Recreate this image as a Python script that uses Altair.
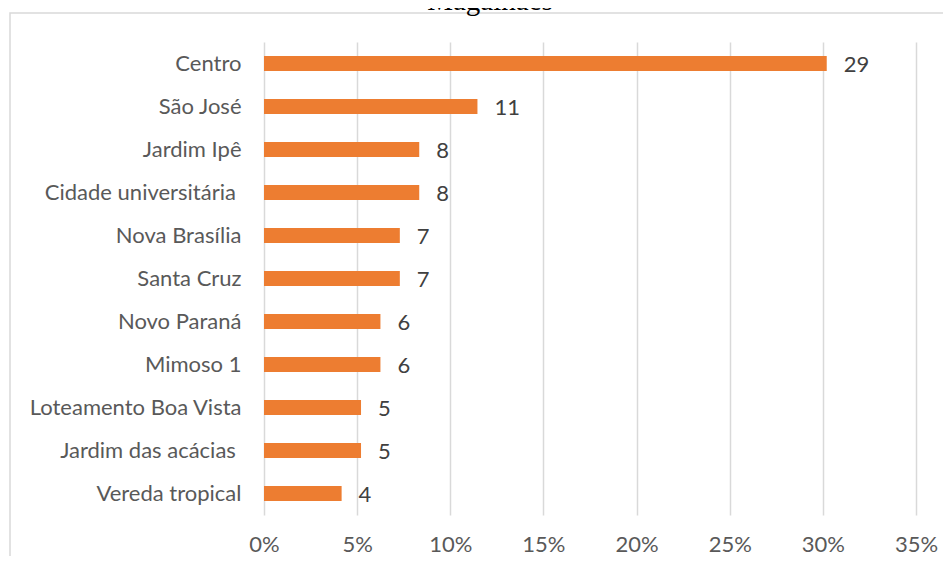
import altair as alt
import pandas as pd

bairros = [
    "Centro", "São José", "Jardim Ipê", "Cidade universitária\u00a0\u200b", "Nova Brasília",
    "Santa Cruz", "Novo Paraná", "Mimoso 1", "Loteamento Boa Vista",
    "Jardim das acácias\u00a0\u200b", "Vereda tropical",
]
contagens = [29, 11, 8, 8, 7, 7, 6, 6, 5, 5, 4]
x_ticks = [0, 0.05, 0.10, 0.15, 0.20, 0.25, 0.30, 0.35]
titulo = "Magalhães"

df = pd.DataFrame({"bairro": bairros, "n": contagens})

FONT = "Lato"
FS = 22
W, H = 652, 473
PAD_L, PAD_T = 256, 34

base = alt.Chart(df).transform_joinaggregate(
    total="sum(n)"
).transform_calculate(
    pct="datum.n / datum.total"
)

y_enc = alt.Y(
    "bairro:N",
    sort=bairros,
    title=None,
    scale=alt.Scale(paddingInner=0.65, paddingOuter=0.325),
    axis=alt.Axis(
        domain=False, ticks=False, grid=False,
        labelFont=FONT, labelFontSize=FS, labelColor="#595959",
        labelPadding=23, labelLimit=400,
    ),
)

x_enc = alt.X(
    "pct:Q",
    title=None,
    scale=alt.Scale(domain=[0, 0.35], nice=False),
    axis=alt.Axis(
        values=x_ticks, format=".0%", domain=False, ticks=False,
        grid=True, gridColor="#D9D9D9", gridWidth=1.5,
        labelFont=FONT, labelFontSize=FS, labelColor="#595959",
        labelPadding=19, labelFlush=False,
    ),
)

bars = base.mark_bar(color="#ED7D31").encode(x=x_enc, y=y_enc)

labels = base.mark_text(
    align="left", baseline="middle", dx=17, dy=1,
    font=FONT, fontSize=FS, color="#404040",
).encode(x="pct:Q", y=alt.Y("bairro:N", sort=bairros), text="n:Q")

border = alt.Chart(pd.DataFrame({"k": [0]})).mark_rect(
    fill=None, stroke="#D9D9D9", strokeWidth=1.5
).encode(
    x=alt.value(-254), x2=alt.value(1200),
    y=alt.value(-29), y2=alt.value(900),
)

title_df = pd.DataFrame({"t": [titulo]})
title = alt.Chart(title_df).mark_text(
    font="Liberation Serif", fontSize=29, color="#000000",
    align="center", baseline="alphabetic",
).encode(x=alt.value(226), y=alt.value(-32), text="t:N")

chart = alt.layer(border, bars, labels, title).properties(
    width=W, height=H,
    autosize=alt.AutoSizeParams(type="none"),
    padding={"left": PAD_L, "top": PAD_T, "right": 935 - PAD_L - W, "bottom": 548 - PAD_T - H},
).configure_view(stroke=None)

chart.save("out.html", embed_options={"renderer": "svg", "actions": False})
